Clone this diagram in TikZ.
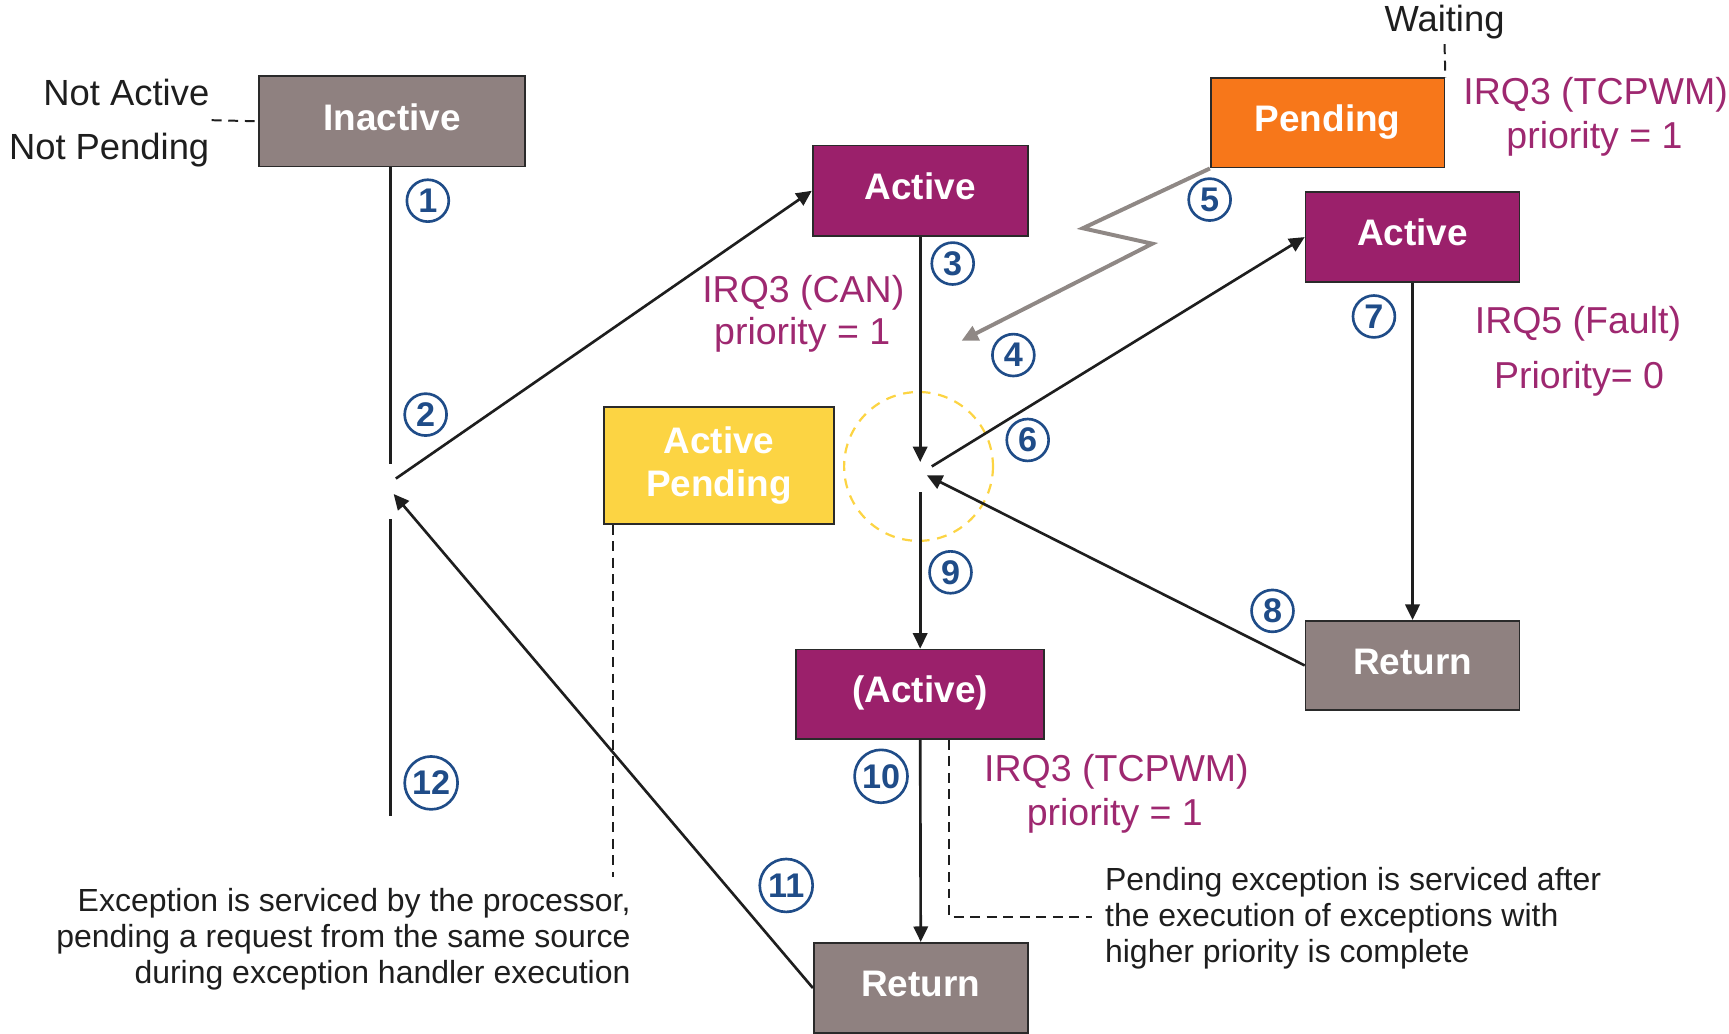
\documentclass[tikz,border=0pt]{standalone}
\usepackage{fontspec}
\setmainfont{Liberation Sans}
\usetikzlibrary{arrows.meta,calc}

\definecolor{stgrey}{HTML}{8F8180}
\definecolor{stmag}{HTML}{9B206B}
\definecolor{storange}{HTML}{F7771A}
\definecolor{styellow}{HTML}{FCD443}
\definecolor{boxline}{HTML}{2A2A2A}
\definecolor{irqtext}{HTML}{9E2870}
\definecolor{numblue}{HTML}{1F4C88}
\definecolor{ink}{HTML}{1E1E1E}
\definecolor{zigzag}{HTML}{8F8885}

\begin{document}
\begin{tikzpicture}[x=1pt,y=-1pt,
  state/.style={draw=boxline, line width=1.6pt, inner sep=0pt, text=white,
    font=\bfseries\fontsize{33.5}{39}\selectfont, align=center},
  oneline/.style={text height=24pt, text depth=8pt},
  lbl/.style={text=irqtext, font=\fontsize{34}{36}\selectfont, inner sep=0pt, anchor=base},
  plaintext/.style={text=ink, font=\fontsize{33}{36}\selectfont, inner sep=0pt},
  note/.style={text=ink, font=\fontsize{29}{33}\selectfont, inner sep=0pt},
  num/.style={circle, draw=numblue, line width=2.4pt, text=numblue,
    font=\bfseries\fontsize{31}{31}\selectfont, inner sep=0pt, minimum size=38pt},
  bignum/.style={num, minimum size=48pt},
  link/.style={draw=ink, line width=2.4pt},
  flow/.style={link, -{Triangle[length=14pt,width=13pt]}},
  guide/.style={draw=ink, line width=1.8pt, dash pattern=on 9pt off 6pt},
]
\useasboundingbox (0,0) rectangle (1568,937);

% ---- state boxes ----
\node[state, oneline, fill=stgrey,   minimum width=241pt, minimum height=82pt]  (inact)    at (355.5,110) {Inactive};
\node[state, oneline, fill=stmag,    minimum width=195pt, minimum height=82pt]  (act1)     at (834.5,173) {Active};
\node[state, oneline, fill=storange, minimum width=212pt, minimum height=81pt]  (pend)     at (1204,111.5) {Pending};
\node[state, oneline, fill=stmag,    minimum width=194pt, minimum height=82pt]  (act2)     at (1281,215) {Active};
\node[state,          fill=styellow, minimum width=208pt, minimum height=106pt] (actpend)  at (652,422) {Active\\Pending};
\node[state, oneline, fill=stmag,    minimum width=225pt, minimum height=81pt]  (actagain) at (834.5,629.5) {(Active)};
\node[state, oneline, fill=stgrey,   minimum width=194pt, minimum height=81pt]  (retR)     at (1281,603.5) {Return};
\node[state, oneline, fill=stgrey,   minimum width=194pt, minimum height=82pt]  (retB)     at (835,896) {Return};

% ---- plain labels ----
\node[plaintext, anchor=base east] (notact)  at (190,96)  {Not Active};
\node[plaintext, anchor=base east] (notpend) at (190,145) {Not Pending};
\node[plaintext, anchor=base]      (waiting) at (1310,29) {Waiting};

% ---- interrupt labels ----
\node[lbl] (tcpTop)  at (1447,94.5) {IRQ3 (TCPWM)};
\node[lbl] (tcpTopP) at (1446,135)  {priority = 1};
\node[lbl] (canA)    at (728.5,274.5) {IRQ3 (CAN)};
\node[lbl] (canP)    at (727.5,312) {priority = 1};
\node[lbl] (faultA)  at (1431,302)  {IRQ5 (Fault)};
\node[lbl] (faultP)  at (1432,352)  {Priority= 0};
\node[lbl] (tcpBot)  at (1012.5,709) {IRQ3 (TCPWM)};
\node[lbl] (tcpBotP) at (1011,749)  {priority = 1};

% ---- notes ----
\node[note, anchor=north west, align=left] (noteR) at (1002,786)
  {Pending exception is serviced after\\the execution of exceptions with\\higher priority is complete};
\node[note, anchor=north east, align=right] (noteL) at (572,805)
  {Exception is serviced by the processor,\\pending a request from the same source\\during exception handler execution};

% ---- junction points ----
\coordinate (ja) at (354,421);
\coordinate (jb) at (359,434);
\coordinate (jc) at (357,448);
\coordinate (jd) at (354,471);
\coordinate (je) at (354,740);
\coordinate (ka) at (834.5,419);
\coordinate (kb) at (845,423);
\coordinate (kc) at (840.5,431);
\coordinate (kd) at (834.5,446.5);
\coordinate (z1) at (982,207);
\coordinate (z2) at (1045,221);
\coordinate (z3) at (872,309);
\coordinate (nacut) at (192,109);
\coordinate (wcut) at (1310,40);
\coordinate (apd) at (556,795);
\coordinate (adc) at (990,832);

% highlight around the nested-exception junction
\draw[styellow, line width=2pt, dash pattern=on 9pt off 7pt] (833,423) circle[radius=67.5];

% ---- transitions ----
\draw[link] (inact.south -| ja) -- (ja);
\draw[flow] (jb) -- (act1.west);
\draw[flow] (act1.south) -- (ka);
\draw[flow] (kb) -- (act2.west);
\draw[flow] (act2.south) -- (retR.north);
\draw[flow] (retR.west) -- (kc);
\draw[flow] (kd) -- (actagain.north);
\draw[flow] (actagain.south) -- (retB.north);
\draw[flow] (retB.west) -- (jc);
\draw[link] (jd) -- (je);

% preemption request
\draw[zigzag, line width=3.6pt, line join=miter, -{Triangle[length=15pt,width=14pt]}]
  (pend.south west) -- (z1) -- (z2) -- (z3);

% ---- annotation leaders ----
\draw[guide] (nacut) -- (inact.west);
\draw[guide] (wcut) -- (pend.north east);
\draw[guide] (apd |- actpend.south) -- (apd);
\draw[guide] ([xshift=26.5pt]actagain.south) |- (adc);

% ---- step numbers ----
\node[num] (n1) at (388,182) {1};
\node[num] (n2) at (386,376) {2};
\node[num] (n3) at (864,239) {3};
\node[num] (n4) at (919,322) {4};
\node[num] (n5) at (1097,181) {5};
\node[num] (n6) at (932,399) {6};
\node[num] (n7) at (1246,287) {7};
\node[num] (n8) at (1154,554) {8};
\node[num] (n9) at (862,519) {9};
\node[bignum] (n10) at (799,704) {10};
\node[bignum] (n11) at (713,803) {11};
\node[bignum] (n12) at (391,710) {12};
\end{tikzpicture}
\end{document}
